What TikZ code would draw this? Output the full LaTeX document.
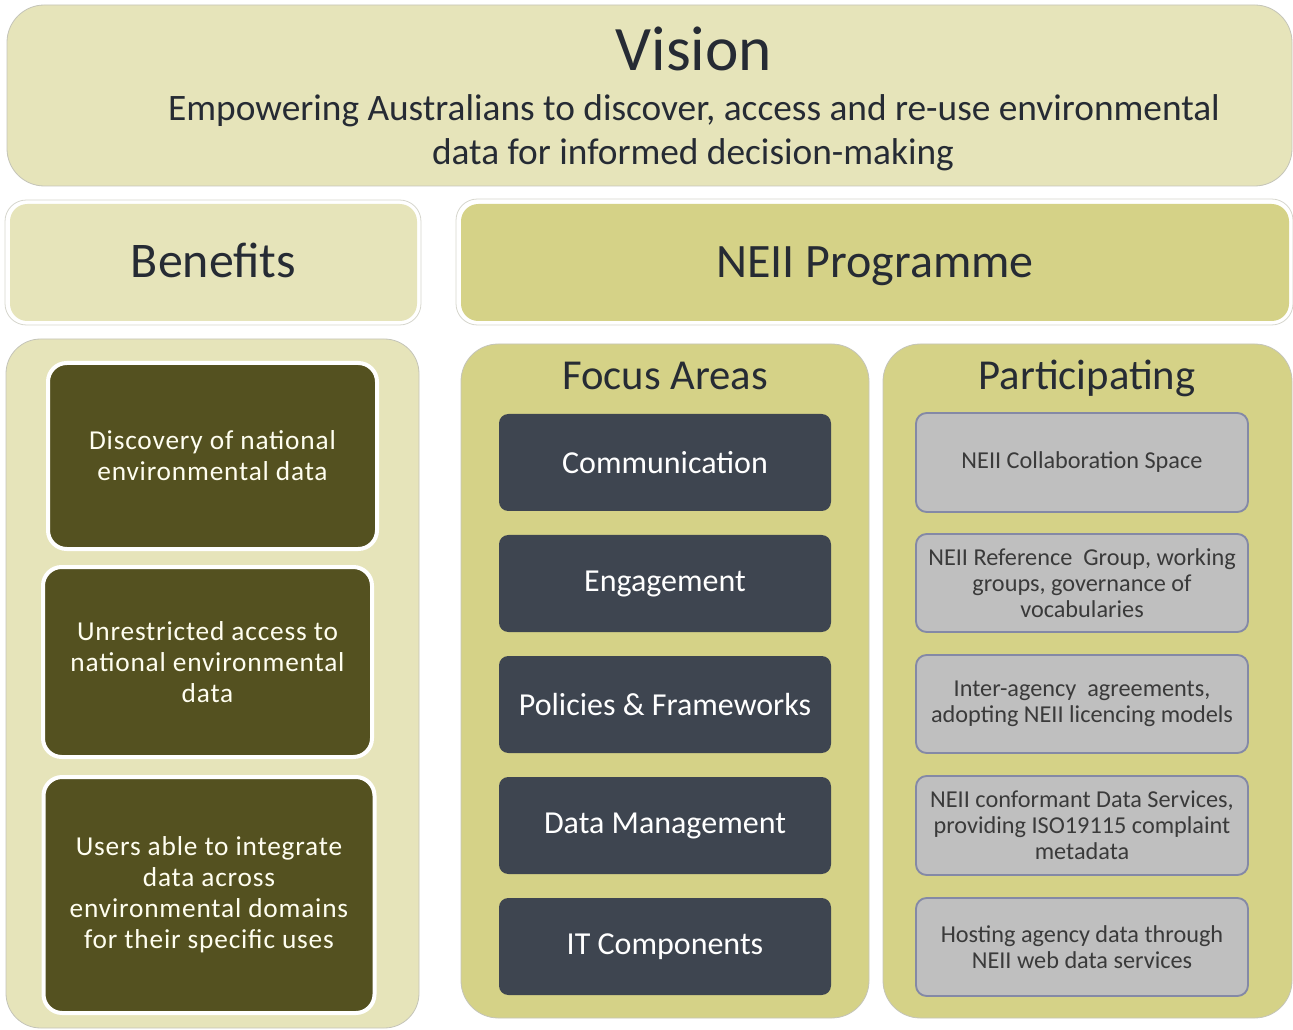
\documentclass[tikz,border=0pt]{standalone}
\usepackage{fontspec}
\setmainfont{Carlito}
\newfontfamily\widefont[LetterSpace=3]{Carlito}
\definecolor{lightol}{HTML}{E6E4BA}
\definecolor{midol}{HTML}{D5D287}
\definecolor{darkol}{HTML}{545120}
\definecolor{slate}{HTML}{3E4550}
\definecolor{greybox}{HTML}{BFBFBF}
\definecolor{greyedge}{HTML}{8489A6}
\definecolor{titletxt}{HTML}{262B34}
\definecolor{parttxt}{HTML}{3A3A3A}
\definecolor{panelEdge}{HTML}{C4C4B8}
\begin{document}
\begin{tikzpicture}[x=0.75pt,y=-0.75pt,
  panel/.style={rounded corners=#1, draw=panelEdge, line width=0.6pt},
  benbox/.style={rectangle, rounded corners=14pt, fill=darkol, draw=white, line width=3pt,
    text=white!94!yellow, align=center, font=\widefont\fontsize{20.5}{23.2}\selectfont},
  focbox/.style={rectangle, rounded corners=7pt, fill=slate, draw=none,
    text=white, align=center, font=\fontsize{24}{27}\selectfont},
  partbox/.style={rectangle, rounded corners=8pt, fill=greybox, draw=greyedge, line width=1.4pt,
    text=parttxt, align=center, font=\fontsize{18.2}{19.6}\selectfont},
  hdr/.style={anchor=base, text=titletxt, inner sep=0pt}]
\useasboundingbox (0,0) rectangle (1293,1030);
% Vision
\filldraw[panel=28pt, fill=lightol] (7,5) rectangle (1292,186);
\node[hdr, font=\fontsize{47.5}{50}\selectfont] (vision) at (694,71) {Vision};
\node[hdr, font=\fontsize{28}{33}\selectfont] (vis1) at (694,121) {Empowering Australians to discover, access and re-use environmental};
\node[hdr, font=\fontsize{28}{33}\selectfont] (vis2) at (693,165) {data for informed decision-making};
% Headers
\filldraw[rounded corners=16pt, fill=white, draw=panelEdge!70, line width=0.6pt] (5,200) rectangle (421,325);
\fill[rounded corners=13pt, lightol] (10,204) rectangle (417,321);
\node[hdr, font=\fontsize{37.4}{40}\selectfont] (benefits) at (213.5,278) {Benefits};
\filldraw[rounded corners=16pt, fill=white, draw=panelEdge!70, line width=0.6pt] (456,199) rectangle (1293,325);
\fill[rounded corners=13pt, midol] (461,204) rectangle (1289,321);
\node[hdr, font=\fontsize{36}{40}\selectfont] (neii) at (875,278) {NEII Programme};
% Panels
\filldraw[panel=26pt, fill=lightol] (6,339) rectangle (419,1028);
\filldraw[panel=28pt, fill=midol] (461,344) rectangle (869,1018);
\filldraw[panel=28pt, fill=midol] (883,344) rectangle (1292,1018);
\node[hdr, font=\fontsize{32}{34}\selectfont] (focus) at (665,390) {Focus Areas};
\node[hdr, font=\fontsize{32}{34}\selectfont] (part) at (1087,390) {Participating};
% Benefit boxes
\node[benbox, minimum width=329*0.75pt, minimum height=186*0.75pt] (b1) at (212.5,456) {Discovery of national\\environmental data};
\node[benbox, minimum width=329*0.75pt, minimum height=190*0.75pt] (b2) at (207.5,662) {Unrestricted access to\\national environmental\\data};
\node[benbox, minimum width=331*0.75pt, minimum height=236*0.75pt] (b3) at (209,895) {Users able to integrate\\data across\\environmental domains\\for their specific uses};
% Focus boxes
\node[focbox, minimum width=332*0.75pt, minimum height=97*0.75pt] (f1) at (665,462.5) {Communication};
\node[focbox, minimum width=332*0.75pt, minimum height=97*0.75pt] (f2) at (665,583.5) {Engagement};
\node[focbox, minimum width=332*0.75pt, minimum height=97*0.75pt] (f3) at (665,704.5) {Policies \& Frameworks};
\node[focbox, minimum width=332*0.75pt, minimum height=97*0.75pt] (f4) at (665,825.5) {Data Management};
\node[focbox, minimum width=332*0.75pt, minimum height=97*0.75pt] (f5) at (665,946.5) {IT Components};
% Participating boxes
\node[partbox, minimum width=332*0.75pt, minimum height=99*0.75pt] (p1) at (1082,462.5) {NEII Collaboration Space};
\node[partbox, minimum width=332*0.75pt, minimum height=98*0.75pt] (p2) at (1082,583) {NEII Reference~ Group, working\\groups, governance of\\vocabularies};
\node[partbox, minimum width=332*0.75pt, minimum height=98*0.75pt] (p3) at (1082,704) {Inter-agency~ agreements,\\adopting NEII licencing models};
\node[partbox, minimum width=332*0.75pt, minimum height=99*0.75pt] (p4) at (1082,825.5) {NEII conformant Data Services,\\providing ISO19115 complaint\\metadata};
\node[partbox, minimum width=332*0.75pt, minimum height=98*0.75pt] (p5) at (1082,947) {Hosting agency data through\\NEII web data services};
\end{tikzpicture}
\end{document}
